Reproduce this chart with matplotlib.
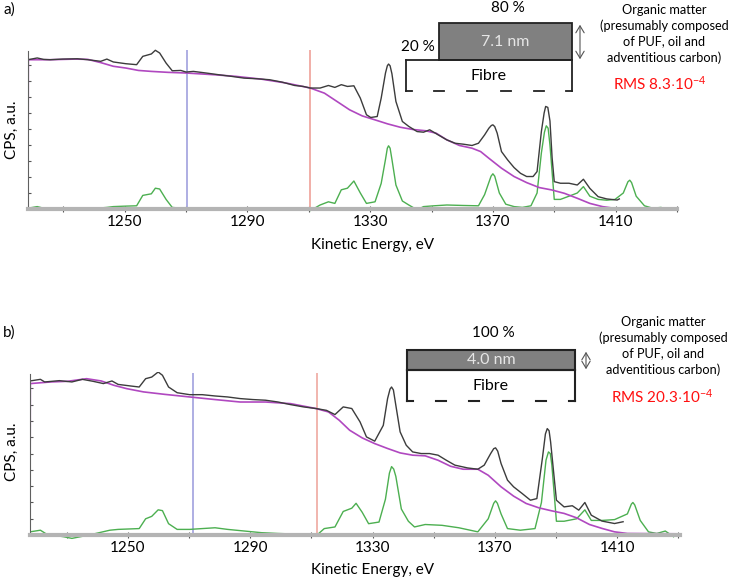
import numpy as np
import matplotlib
matplotlib.use('Agg')
import matplotlib.pyplot as plt
from matplotlib.patches import Rectangle, FancyArrowPatch
from matplotlib.lines import Line2D

plt.rcParams['font.family'] = ['Lato', 'DejaVu Sans']
plt.rcParams['mathtext.fontset'] = 'custom'
plt.rcParams['mathtext.rm'] = 'Lato'
plt.rcParams['mathtext.it'] = 'Lato'

# ---- panel a) data (kinetic energy eV, CPS a.u.) ----
a_meas_x = [1218.5, 1221.5, 1223.6, 1225.7, 1229.8, 1234.6, 1238.0, 1242.2, 1244.2, 1246.3,
            1250.4, 1253.9, 1255.9, 1258.7, 1260.0, 1261.4, 1263.5, 1265.5, 1268.3, 1270.0,
            1272.4, 1276.5, 1280.7, 1284.8, 1288.9, 1293.1, 1297.2, 1301.3, 1305.4, 1308.2,
            1310.5, 1313.7, 1316.4, 1318.5, 1320.6, 1322.6, 1324.7, 1326.8, 1328.8, 1330.2,
            1332.3, 1333.6, 1335.0, 1335.6, 1336.0, 1336.5, 1337.1, 1338.4, 1340.5, 1342.6,
            1345.3, 1347.4, 1349.4, 1352.2, 1355.0, 1357.7, 1360.4, 1363.2, 1365.3, 1367.3,
            1368.7, 1369.5, 1370.0, 1370.6, 1371.4, 1372.8, 1374.8, 1376.9, 1379.0, 1381.0,
            1383.1, 1384.4, 1385.8, 1386.7, 1387.2, 1387.9, 1388.6, 1389.3, 1390.0, 1392.0,
            1394.8, 1397.5, 1399.5, 1401.6, 1404.3, 1407.1, 1410.5, 1411.2]
a_meas_y = [9.33, 9.44, 9.35, 9.33, 9.37, 9.39, 9.33, 9.23, 9.37, 9.19,
            9.08, 9.02, 9.54, 9.69, 9.92, 9.75, 9.12, 8.64, 8.66, 8.56,
            8.60, 8.50, 8.39, 8.29, 8.18, 8.14, 8.08, 7.93, 7.72, 7.66,
            7.56, 7.56, 7.72, 7.60, 7.77, 7.66, 7.70, 6.93, 5.89, 5.72,
            5.78, 6.93, 8.50, 8.95, 9.06, 8.95, 8.45, 6.72, 5.47, 5.16,
            4.84, 4.80, 4.95, 4.63, 4.32, 4.11, 4.05, 3.97, 4.11, 4.63,
            5.05, 5.22, 5.26, 5.15, 4.74, 3.59, 3.07, 2.59, 2.23, 2.03,
            2.03, 2.34, 4.84, 6.00, 6.41, 6.35, 5.50, 3.20, 1.71, 1.61,
            1.61, 1.50, 1.86, 1.29, 0.77, 0.63, 0.56, 0.63]

a_bg_x = [1218.5, 1218.6, 1225.7, 1233.9, 1238.0, 1242.2, 1246.3, 1250.4, 1254.5, 1258.7,
          1264.2, 1270.0, 1279.3, 1286.2, 1294.4, 1302.7, 1310.5, 1315.1, 1319.2, 1323.3,
          1327.4, 1331.6, 1335.7, 1339.8, 1343.9, 1348.1, 1351.5, 1355.0, 1359.1, 1363.2,
          1366.0, 1368.7, 1372.8, 1376.9, 1381.0, 1385.1, 1389.2, 1393.3, 1397.5, 1401.6,
          1405.7, 1409.8, 1430.0]
a_bg_y = [0.0, 9.33, 9.33, 9.37, 9.35, 9.15, 8.92, 8.81, 8.66, 8.60,
          8.54, 8.50, 8.39, 8.29, 8.12, 7.87, 7.56, 7.24, 6.72, 6.20,
          5.82, 5.57, 5.32, 5.11, 4.97, 4.89, 4.74, 4.32, 3.97, 3.80,
          3.59, 3.17, 2.55, 2.03, 1.65, 1.34, 1.19, 0.98, 0.67, 0.35,
          0.15, 0.04, 0.02]

a_diff_x = [1218.5, 1221.5, 1223.6, 1229.8, 1233.9, 1238.0, 1244.2, 1246.3, 1250.4, 1253.9,
            1255.9, 1258.7, 1260.0, 1261.4, 1263.5, 1265.5, 1268.3, 1272.4, 1279.3, 1288.9,
            1299.9, 1309.6, 1310.5, 1313.7, 1316.4, 1318.5, 1320.6, 1322.6, 1324.7, 1326.8,
            1328.8, 1331.6, 1333.6, 1335.0, 1335.6, 1336.0, 1336.5, 1337.1, 1338.4, 1340.5,
            1342.6, 1345.3, 1347.4, 1350.8, 1355.0, 1360.4, 1365.3, 1367.3, 1369.4, 1370.0,
            1370.6, 1372.1, 1374.2, 1376.9, 1379.6, 1382.4, 1384.4, 1385.8, 1386.8, 1387.4,
            1388.0, 1388.6, 1390.0, 1392.0, 1394.8, 1397.5, 1399.5, 1401.6, 1404.3, 1407.1,
            1409.8, 1412.5, 1414.0, 1414.6, 1415.2, 1416.7, 1419.4, 1422.1, 1424.8, 1426.9,
            1430.0]
a_diff_y = [0.05, 0.15, 0.05, -0.05, 0.03, 0.0, 0.10, 0.15, 0.18, 0.20,
            0.85, 0.95, 1.30, 1.25, 0.60, 0.10, 0.05, 0.05, 0.0, 0.02,
            0.0, 0.05, -0.10, 0.25, 0.45, 0.35, 1.20, 1.30, 1.75, 1.00,
            0.35, 0.45, 1.60, 3.10, 3.80, 3.95, 3.80, 3.10, 1.50, 0.50,
            0.25, -0.05, 0.15, 0.20, 0.25, 0.22, 0.20, 0.90, 2.05, 2.20,
            2.05, 1.00, 0.30, 0.15, 0.10, 0.20, 1.00, 3.50, 4.80, 5.20,
            5.05, 4.00, 0.60, 0.60, 0.80, 1.00, 1.40, 0.80, 0.60, 0.55,
            0.60, 1.00, 1.70, 1.80, 1.65, 0.80, 0.20, 0.05, 0.10, -0.05,
            0.0]

# ---- panel b) data ----
b_meas_x = [1218.0, 1221.4, 1222.8, 1227.6, 1231.7, 1235.1, 1238.6, 1242.0, 1244.8, 1246.8,
            1251.0, 1253.7, 1255.8, 1257.8, 1259.9, 1261.3, 1263.3, 1266.1, 1270.2, 1274.3,
            1278.5, 1282.6, 1286.7, 1290.9, 1295.0, 1299.1, 1303.2, 1307.4, 1311.5, 1314.9,
            1317.7, 1320.4, 1323.2, 1325.9, 1328.0, 1330.7, 1333.5, 1334.9, 1335.7, 1336.2,
            1336.8, 1337.6, 1339.0, 1341.0, 1343.1, 1345.9, 1348.6, 1351.4, 1354.1, 1356.9,
            1361.0, 1364.4, 1366.5, 1368.6, 1369.6, 1370.2, 1370.9, 1372.0, 1374.1, 1376.1,
            1378.9, 1381.6, 1383.7, 1385.5, 1386.5, 1387.1, 1387.7, 1388.2, 1390.1, 1392.6,
            1395.3, 1397.4, 1399.4, 1401.5, 1405.0, 1409.1, 1411.9]
b_meas_y = [9.45, 9.55, 9.39, 9.47, 9.39, 9.55, 9.43, 9.29, 9.45, 9.24,
            9.14, 9.08, 9.59, 9.69, 10.0, 9.80, 9.08, 8.73, 8.61, 8.61,
            8.53, 8.47, 8.37, 8.31, 8.27, 8.16, 8.00, 7.86, 7.76, 7.65,
            7.39, 7.86, 7.76, 6.94, 6.02, 5.76, 6.73, 8.37, 8.95, 9.08,
            8.90, 7.96, 6.33, 5.51, 5.10, 5.00, 5.00, 4.90, 4.59, 4.29,
            4.12, 4.04, 4.29, 5.00, 5.30, 5.35, 5.15, 4.39, 3.37, 2.96,
            2.55, 2.14, 2.24, 4.69, 6.20, 6.53, 6.40, 5.71, 2.14, 1.73,
            1.80, 1.53, 2.00, 1.22, 0.86, 0.71, 0.82]

b_bg_x = [1218.0, 1218.1, 1224.8, 1230.3, 1236.5, 1241.3, 1245.5, 1249.6, 1255.1, 1262.0,
          1270.2, 1278.5, 1286.7, 1295.0, 1303.2, 1311.5, 1315.6, 1319.1, 1322.5, 1326.6,
          1330.7, 1334.9, 1339.0, 1343.1, 1347.2, 1351.4, 1355.5, 1359.6, 1364.4, 1367.8,
          1372.0, 1376.1, 1380.2, 1384.4, 1388.5, 1392.6, 1396.7, 1400.9, 1405.0, 1409.1,
          1413.3, 1429.1]
b_bg_y = [0.0, 9.29, 9.39, 9.43, 9.59, 9.45, 9.18, 8.98, 8.78, 8.63,
          8.47, 8.31, 8.16, 8.16, 8.06, 7.76, 7.55, 7.04, 6.43, 5.96,
          5.61, 5.31, 5.04, 4.90, 4.86, 4.59, 4.22, 4.04, 4.04, 3.67,
          2.96, 2.39, 1.94, 1.67, 1.49, 1.33, 1.06, 0.65, 0.41, 0.20,
          0.10, 0.08]

b_diff_x = [1218.0, 1221.4, 1223.5, 1229.0, 1231.7, 1237.2, 1244.1, 1246.8, 1253.7, 1255.8,
            1257.8, 1259.9, 1261.3, 1263.3, 1266.1, 1270.2, 1274.3, 1278.5, 1282.6, 1288.1,
            1293.6, 1299.1, 1307.4, 1311.5, 1314.2, 1317.7, 1320.4, 1323.2, 1324.6, 1326.6,
            1328.7, 1332.1, 1334.2, 1335.5, 1336.2, 1336.9, 1337.6, 1339.4, 1341.7, 1343.7,
            1347.2, 1352.7, 1358.2, 1364.4, 1367.8, 1369.6, 1370.2, 1370.8, 1372.0, 1374.1,
            1378.3, 1383.1, 1385.2, 1386.7, 1387.5, 1388.1, 1388.6, 1390.1, 1392.6, 1396.7,
            1399.4, 1401.5, 1405.0, 1409.1, 1413.3, 1414.6, 1415.1, 1415.7, 1417.5, 1420.2,
            1422.9, 1425.7, 1428.4]
b_diff_y = [0.20, 0.30, 0.05, -0.10, -0.20, 0.0, 0.30, 0.35, 0.40, 1.00,
            1.15, 1.55, 1.50, 0.70, 0.35, 0.35, 0.40, 0.45, 0.35, 0.25,
            0.15, 0.10, 0.05, -0.05, 0.40, 0.50, 1.45, 1.65, 1.95, 1.40,
            0.70, 0.80, 2.20, 3.80, 4.20, 4.05, 3.60, 1.60, 0.85, 0.50,
            0.65, 0.60, 0.45, 0.20, 1.00, 1.95, 2.10, 1.95, 1.30, 0.40,
            0.30, 0.40, 2.00, 4.60, 5.10, 5.00, 4.30, 0.85, 0.85, 1.00,
            1.55, 0.90, 0.90, 0.95, 1.30, 1.90, 2.00, 1.85, 0.90, 0.20,
            0.10, 0.25, -0.10]

a_markers = [1270.2, 1310.3]
b_markers = [1271.3, 1311.8]
tick_labels = [1250, 1290, 1330, 1370, 1410]
minor_ticks = [1230, 1270, 1310, 1350, 1390, 1430]

W, H = 732, 580


def fx(x):
    return x / W


def fy(y):
    return 1 - y / H


def setup_axes(ax, xlim):
    ax.set_xlim(*xlim)
    ax.set_ylim(-0.3, 10.0)
    for s in ['top', 'right']:
        ax.spines[s].set_visible(False)
    ax.spines['bottom'].set_position(('data', 0))
    ax.spines['bottom'].set_color('#b4b4b4')
    ax.spines['bottom'].set_linewidth(3)
    ax.spines['left'].set_color('#606060')
    ax.spines['left'].set_linewidth(0.8)
    ax.spines['left'].set_bounds(0, 9.85)
    ax.set_xticks(tick_labels)
    ax.set_xticks(minor_ticks, minor=True)
    ax.tick_params(axis='x', which='both', direction='inout', length=4, width=0.8,
                   color='#555555', pad=2.5, labelsize=11)
    ax.set_yticks(np.arange(0, 10))
    ax.set_yticklabels([])
    ax.tick_params(axis='y', direction='in', length=2.5, width=0.8, color='#555555')
    ax.patch.set_alpha(0)


fig = plt.figure(figsize=(W / 100, H / 100), dpi=100)

# panel a
ax1 = fig.add_axes([fx(28), fy(213.8), (677 - 28) / W, 164.8 / H])
setup_axes(ax1, (1218.5, 1430))
ax1.vlines(a_markers[0], 0, 9.95, color='#a8a8e0', lw=1.3)
ax1.vlines(a_markers[1], 0, 9.95, color='#f0a8a0', lw=1.3)
ax1.plot(a_diff_x, a_diff_y, color='#4caf50', lw=1)
ax1.plot(a_bg_x, a_bg_y, color='#b048c0', lw=1.2)
ax1.plot(a_meas_x, a_meas_y, color='#3c3c3c', lw=1)

# panel b
ax2 = fig.add_axes([fx(30), fy(540), (680 - 30) / W, 168 / H])
setup_axes(ax2, (1218.0, 1430.5))
ax2.vlines(b_markers[0], 0, 9.95, color='#a8a8e0', lw=1.3)
ax2.vlines(b_markers[1], 0, 9.95, color='#f0b0a8', lw=1.3)
ax2.plot(b_diff_x, b_diff_y, color='#4caf50', lw=1)
ax2.plot(b_bg_x, b_bg_y, color='#b048c0', lw=1.2)
ax2.plot(b_meas_x, b_meas_y, color='#3c3c3c', lw=1)

# panel labels and axis titles
fig.text(fx(3), fy(10), 'a)', fontsize=11, va='center', ha='left')
fig.text(fx(3), fy(333), 'b)', fontsize=11, va='center', ha='left')
fig.text(fx(12), fy(130), 'CPS, a.u.', fontsize=11, rotation=90, va='center', ha='center')
fig.text(fx(12), fy(452), 'CPS, a.u.', fontsize=11, rotation=90, va='center', ha='center')
fig.text(fx(373), fy(245), 'Kinetic Energy, eV', fontsize=11, va='center', ha='center')
fig.text(fx(373), fy(570), 'Kinetic Energy, eV', fontsize=11, va='center', ha='center')


def layer_sketch(x0, x1, ytop, ymid, ybot, ltop, lthick, top_label, top_y, arrow_x, lw):
    # grey organic layer
    fig.add_artist(Rectangle((fx(ltop), fy(ymid)), fx(x1) - fx(ltop), fy(ytop) - fy(ymid),
                             transform=fig.transFigure, facecolor='#808080',
                             edgecolor='#222222', lw=lw))
    # fibre outline
    fig.add_artist(Line2D([fx(x0), fx(x0)], [fy(ymid), fy(ybot)], transform=fig.transFigure,
                          color='#222222', lw=lw))
    fig.add_artist(Line2D([fx(x0), fx(x1)], [fy(ymid), fy(ymid)], transform=fig.transFigure,
                          color='#222222', lw=lw))
    fig.add_artist(Line2D([fx(x1), fx(x1)], [fy(ymid), fy(ybot)], transform=fig.transFigure,
                          color='#222222', lw=lw))
    # dashed bottom
    fig.add_artist(Line2D([fx(x0), fx(x0 + 6)], [fy(ybot), fy(ybot)], transform=fig.transFigure,
                          color='#222222', lw=lw))
    fig.add_artist(Line2D([fx(x1 - 6), fx(x1)], [fy(ybot), fy(ybot)], transform=fig.transFigure,
                          color='#222222', lw=lw))
    for c in np.linspace(x0, x1, 6)[1:-1]:
        fig.add_artist(Line2D([fx(c - 5), fx(c + 5)], [fy(ybot), fy(ybot)],
                              transform=fig.transFigure, color='#222222', lw=lw))
    fig.text(fx((x0 + x1) / 2), fy((ymid + ybot) / 2), 'Fibre', fontsize=11.5,
             ha='center', va='center')
    fig.text(fx((ltop + x1) / 2), fy((ytop + ymid) / 2), lthick, fontsize=11.5,
             ha='center', va='center', color='#e6e6e6')
    fig.text(fx((ltop + x1) / 2 + 2), fy(top_y), top_label, fontsize=11,
             ha='center', va='center')
    fig.add_artist(FancyArrowPatch((fx(arrow_x), fy(ytop - 1)), (fx(arrow_x), fy(ymid + 2)),
                                   transform=fig.transFigure,
                                   arrowstyle='<->,head_width=3,head_length=5',
                                   color='#555555', lw=0.8))


layer_sketch(406, 572, 23, 60, 91, 439, '7.1 nm', '80 %', 8, 580, 1.3)
fig.text(fx(418), fy(47), '20 %', fontsize=11, ha='center', va='center')
layer_sketch(407, 575, 350, 370, 401, 407, '4.0 nm', '100 %', 333, 586, 1.5)

note = 'Organic matter\n(presumably composed\nof PUF, oil and\nadventitious carbon)'
fig.text(fx(664), fy(34), note, fontsize=9.2, ha='center', va='center', linespacing=1.33)
fig.text(fx(660), fy(84), r'RMS 8.3$\cdot$10$^{-4}$', fontsize=11, ha='center',
         va='center', color='#ff1010')
fig.text(fx(663), fy(346), note, fontsize=9.2, ha='center', va='center', linespacing=1.33)
fig.text(fx(662), fy(397), r'RMS 20.3$\cdot$10$^{-4}$', fontsize=11, ha='center',
         va='center', color='#ff1010')

fig.savefig('out.png', dpi=100)
